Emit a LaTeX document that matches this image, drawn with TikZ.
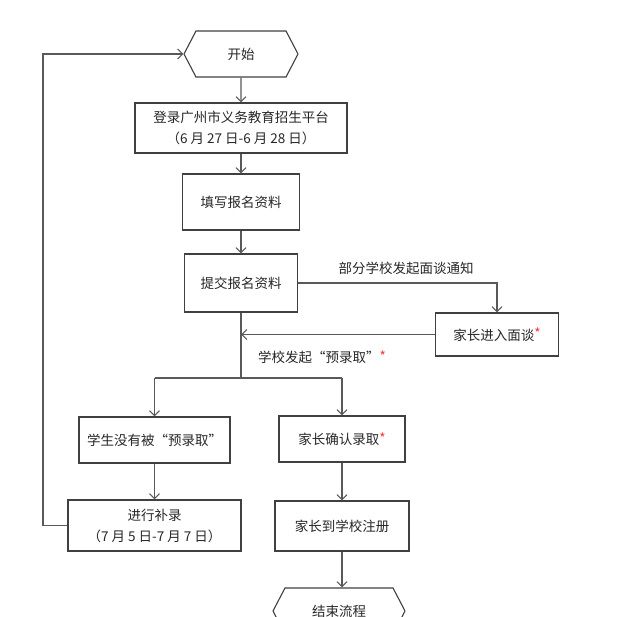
\documentclass[tikz,border=0pt]{standalone}
\usepackage{fontspec}
\setmainfont{Noto Sans CJK SC}
\usetikzlibrary{shapes.symbols,arrows.meta}
\newcommand{\reqmark}{\textcolor{red!80}{\raisebox{1.5pt}{*}}}

\begin{document}
\begin{tikzpicture}[x=1pt,y=-1pt,
  >={Straight Barb[length=5pt,width=10pt]},
  every node/.style={font=\fontsize{13.5}{21}\selectfont, text=black!85},
  stepbox/.style={draw=black!75, line width=1.1pt, inner sep=0pt, align=center},
  terminal/.style={signal, signal to=west and east, signal pointer angle=125,
    draw=black!75, line width=1.1pt, inner sep=0pt},
  flow/.style={->, draw=black!65, line width=1.1pt}]
\useasboundingbox (0,0) rectangle (624,617);

\node[terminal, minimum width=114pt, minimum height=46pt] (start) at (241, 54) {开始};
\node[stepbox, minimum width=212pt, minimum height=50pt] (login) at (241, 128)
  {登录广州市义务教育招生平台\\（6 月 27 日-6 月 28 日）};
\node[stepbox, minimum width=117pt, minimum height=56pt] (fill) at (241, 202) {填写报名资料};
\node[stepbox, minimum width=113pt, minimum height=58pt] (submit) at (241, 283) {提交报名资料};
\node[stepbox, minimum width=123pt, minimum height=43pt] (interview) at (497, 334.5) {家长进入面谈\reqmark};
\node[stepbox, minimum width=151pt, minimum height=46pt] (nopre) at (154.5, 440) {学生没有被“预录取”};
\node[stepbox, minimum width=126pt, minimum height=46pt] (confirm) at (342, 439) {家长确认录取\reqmark};
\node[stepbox, minimum width=173pt, minimum height=51pt] (supp) at (154.5, 525.5)
  {进行补录\\（7 月 5 日-7 月 7 日）};
\node[stepbox, minimum width=134pt, minimum height=50pt] (register) at (342, 526) {家长到学校注册};
\node[terminal, minimum width=132pt, minimum height=46pt] (end) at (339, 611) {结束流程};

\coordinate (join) at (241, 334.5);
\coordinate (split) at (241, 378);
\coordinate (loop) at (43, 525.5);

\node (notice) at (406, 268) {部分学校发起面谈通知};
\node (offer) at (322, 357) {学校发起“预录取”\reqmark};

\draw[flow] (start) -- (login);
\draw[flow] (login) -- (fill);
\draw[flow] (fill) -- (submit);
\draw[flow] (submit.east) -| (interview.north);
\draw[flow] (interview.west) -- (join);
\draw[flow, -] (submit.south) -- (split);
\draw[flow, -] (nopre.north |- split) -- (confirm.north |- split);
\draw[flow] (nopre.north |- split) -- (nopre.north);
\draw[flow] (confirm.north |- split) -- (confirm.north);
\draw[flow] (nopre) -- (supp);
\draw[flow] (confirm) -- (register);
\draw[flow] (register.south) -- (register.south |- end.north);
\draw[flow] (supp.west) -- (loop) |- (start.west);
\end{tikzpicture}
\end{document}
